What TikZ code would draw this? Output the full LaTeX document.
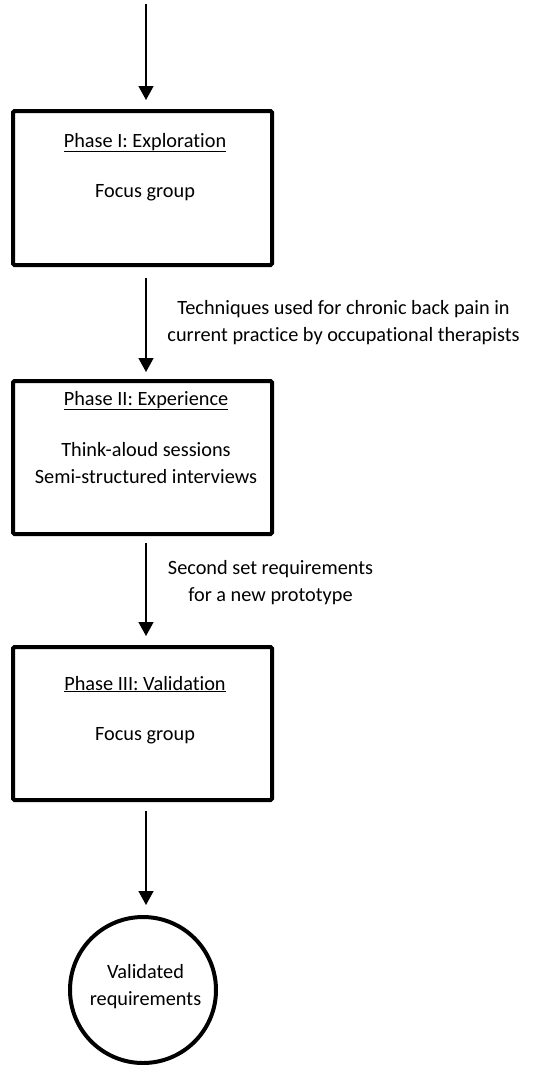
\documentclass[tikz,border=0pt]{standalone}
\usepackage{fontspec}
\setmainfont[Ligatures={NoCommon}]{Carlito}
\usetikzlibrary{arrows.meta}
\begin{document}
\begin{tikzpicture}[x=1pt,y=1pt,
  phasebox/.style={draw,line width=4pt,rounded corners=1.5pt,minimum width=259pt,inner sep=0pt},
  endcircle/.style={draw,circle,line width=4pt,minimum size=146pt,inner sep=0pt},
  txt/.style={font=\fontsize{20.3}{27}\selectfont,align=center,inner sep=0pt},
  flow/.style={line width=1.5pt,-{Triangle[width=15pt,length=14pt]}}]
\useasboundingbox (0,0) rectangle (557,-1065);
% boxes
\node[phasebox,minimum height=154pt] (b1) at (142.5,-188) {};
\node[phasebox,minimum height=153pt] (b2) at (142.5,-457.5) {};
\node[phasebox,minimum height=153pt] (b3) at (142.5,-723.5) {};
\node[endcircle] (c) at (143,-990) {};
% texts in boxes
\node[txt,anchor=base] (t1) at (145,-147) {\underline{Phase I: Exploration}};
\node[txt,anchor=base] (f1) at (145,-197) {Focus group};
\node[txt,anchor=base] (t2) at (146,-405) {\underline{Phase II: Experience}};
\node[txt] (f2) at (146,-463.5) {Think-aloud sessions\\Semi-structured interviews};
\node[txt,anchor=base] (t3) at (145,-690) {\underline{Phase III: Validation}};
\node[txt,anchor=base] (f3) at (145,-740) {Focus group};
\node[txt] (ct) at (145.5,-986.5) {Validated\\requirements};
% arrow labels
\node[txt] (l1) at (343.5,-323) {Techniques used for chronic back pain in\\current practice by occupational therapists};
\node[txt] (l2) at (270.5,-582.5) {Second set requirements\\for a new prototype};
% arrows
\coordinate (start) at (146,-4);
\draw[flow,shorten >=9pt] (start) -- (b1.north -| start);
\draw[flow,shorten <=11pt,shorten >=7pt] (b1.south -| start) -- (b2.north -| start);
\draw[flow,shorten <=7pt,shorten >=9pt] (b2.south -| start) -- (b3.north -| start);
\draw[flow,shorten <=9pt,shorten >=10pt] (b3.south -| start) -- (c.north -| start);
\end{tikzpicture}
\end{document}
